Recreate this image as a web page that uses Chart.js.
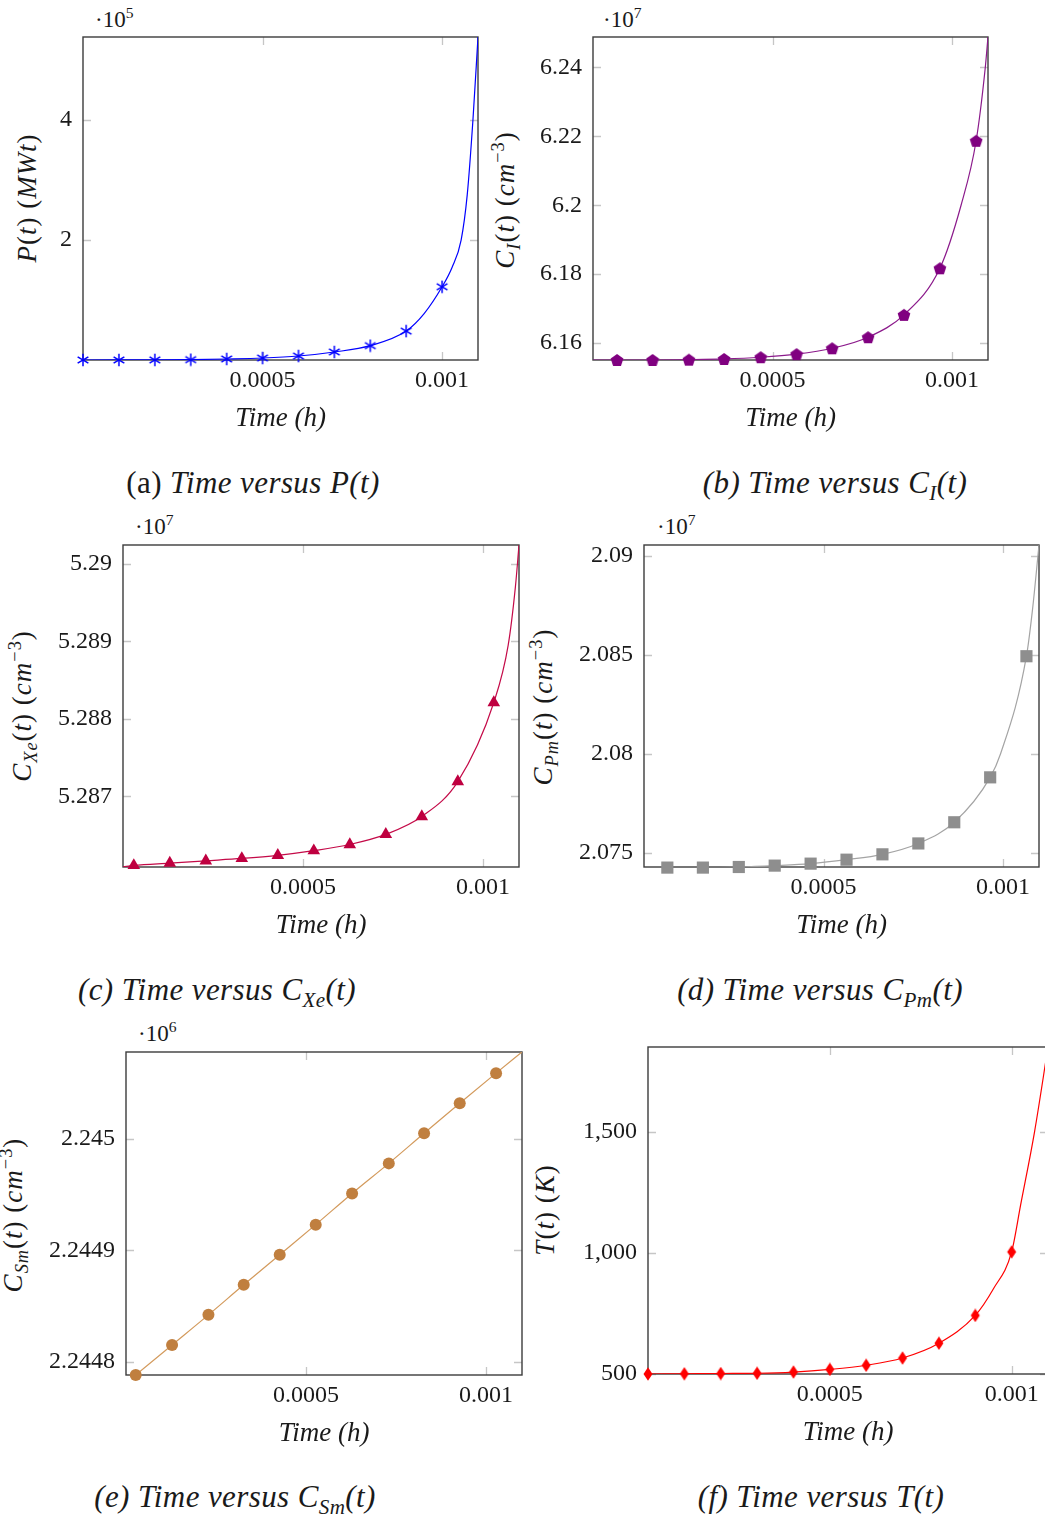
<!DOCTYPE html>
<html>
<head>
<meta charset="utf-8">
<script src="https://cdn.jsdelivr.net/npm/chart.js@4.4.1/dist/chart.umd.min.js"></script>
<style>
    html, body { margin: 0; padding: 0; background: #fff; }
    body { width: 1045px; height: 1517px; position: relative; overflow: hidden; font-family: 'Liberation Serif', serif; color: #1a1a1a; }
    canvas { position: absolute; }
    .ytitle { position: absolute; transform: translate(-50%, -50%) rotate(-90deg); white-space: nowrap; font-size: 27px; letter-spacing: 1px; }
    .mult { position: absolute; font-size: 23px; transform: translateY(-50%); white-space: nowrap; }
    .caption { position: absolute; transform: translate(-50%, -50%); white-space: nowrap; font-size: 31px; letter-spacing: 0.4px; font-style: italic; }
    .caption .up { font-style: normal; }
    sub, sup { font-size: 68%; line-height: 0; }
</style>
</head>
<body>

<div class="mult" style="left:95px; top:20px">·10<sup>5</sup></div>
<div class="mult" style="left:603px; top:20px">·10<sup>7</sup></div>
<div class="mult" style="left:135px; top:527px">·10<sup>7</sup></div>
<div class="mult" style="left:657px; top:527px">·10<sup>7</sup></div>
<div class="mult" style="left:138px; top:1034px">·10<sup>6</sup></div>

<div class="ytitle" style="left:27px; top:198px"><i>P</i>(<i>t</i>) (<i>MWt</i>)</div>
<div class="ytitle" style="left:505px; top:200px"><i>C<sub>I</sub></i>(<i>t</i>) (<i>cm</i><sup>−3</sup>)</div>
<div class="ytitle" style="left:22px; top:706px"><i>C<sub>Xe</sub></i>(<i>t</i>) (<i>cm</i><sup>−3</sup>)</div>
<div class="ytitle" style="left:543px; top:707px"><i>C<sub>Pm</sub></i>(<i>t</i>) (<i>cm</i><sup>−3</sup>)</div>
<div class="ytitle" style="left:13px; top:1215px"><i>C<sub>Sm</sub></i>(<i>t</i>) (<i>cm</i><sup>−3</sup>)</div>
<div class="ytitle" style="left:545px; top:1210px"><i>T</i>(<i>t</i>) (<i>K</i>)</div>

<div class="caption" style="left:253px; top:483px"><span class="up">(a)</span> Time versus P(t)</div>
<div class="caption" style="left:835px; top:483px">(b) Time versus C<sub>I</sub>(t)</div>
<div class="caption" style="left:217px; top:990px">(c) Time versus C<sub>Xe</sub>(t)</div>
<div class="caption" style="left:820px; top:990px">(d) Time versus C<sub>Pm</sub>(t)</div>
<div class="caption" style="left:235px; top:1497px">(e) Time versus C<sub>Sm</sub>(t)</div>
<div class="caption" style="left:821px; top:1497px">(f) Time versus T(t)</div>

<script>
// shared time axis
const xTicks = [0.0005, 0.001];
const xTickLabels = ['0.0005', '0.001'];

// (a) P(t), in 1e5 MWt
const pTimes = [0, 0.0001, 0.0002, 0.0003, 0.0004, 0.0005, 0.0006, 0.0007, 0.0008, 0.0009, 0.001];
const pValues = [0.01, 0.011, 0.012, 0.016, 0.027, 0.043, 0.076, 0.143, 0.248, 0.49, 1.225];
const pEdgeTimes = [0.00095, 0.001028, 0.001053, 0.00107, 0.001086, 0.0011];
const pEdgeValues = [0.78, 1.55, 2.0, 2.75, 4.0, 5.37];
const pYTicks = [2, 4];
const pYTickLabels = ['2', '4'];

// (b) C_I(t), in 1e7 cm^-3
const ciTimes = [0.000067, 0.000166, 0.000267, 0.000365, 0.000467, 0.000567, 0.000666, 0.000766, 0.000866, 0.000966, 0.001067];
const ciValues = [6.1551, 6.1551, 6.1552, 6.1554, 6.1559, 6.1568, 6.1585, 6.1617, 6.1682, 6.1817, 6.2187];
const ciEdgeTimes = [0, 0.001025, 0.001092, 0.0011];
const ciEdgeValues = [6.1551, 6.2, 6.2395, 6.2488];
const ciYTicks = [6.16, 6.18, 6.2, 6.22, 6.24];
const ciYTickLabels = ['6.16', '6.18', '6.2', '6.22', '6.24'];

// (c) C_Xe(t), in 1e7 cm^-3
const xeTimes = [0.00003, 0.00013, 0.00023, 0.00033, 0.00043, 0.00053, 0.00063, 0.00073, 0.00083, 0.00093, 0.00103];
const xeValues = [5.28611, 5.28614, 5.28617, 5.2862, 5.28624, 5.2863, 5.28638, 5.28651, 5.28674, 5.28719, 5.28821];
const xeEdgeTimes = [0, 0.00107, 0.00109, 0.0011];
const xeEdgeValues = [5.28609, 5.28895, 5.2897, 5.29024];
const xeYTicks = [5.287, 5.288, 5.289, 5.29];
const xeYTickLabels = ['5.287', '5.288', '5.289', '5.29'];

// (d) C_Pm(t), in 1e7 cm^-3
const pmTimes = [0.000065, 0.000164, 0.000264, 0.000364, 0.000464, 0.000564, 0.000664, 0.000764, 0.000864, 0.000964, 0.001065];
const pmValues = [2.07425, 2.07425, 2.07428, 2.07435, 2.07445, 2.07465, 2.07492, 2.07547, 2.07654, 2.07881, 2.08493];
const pmEdgeTimes = [0, 0.000993, 0.001082, 0.0011];
const pmEdgeValues = [2.07425, 2.08, 2.0873, 2.09055];
const pmYTicks = [2.075, 2.08, 2.085, 2.09];
const pmYTickLabels = ['2.075', '2.08', '2.085', '2.09'];

// (e) C_Sm(t), in 1e6 cm^-3
const smTimes = [0.000027, 0.000128, 0.000229, 0.000327, 0.000427, 0.000527, 0.000628, 0.00073, 0.000828, 0.000927, 0.001028];
const smValues = [2.244788, 2.244815, 2.244842, 2.244869, 2.244896, 2.244923, 2.244951, 2.244978, 2.245005, 2.245032, 2.245059];
const smEdgeTimes = [0.0011];
const smEdgeValues = [2.245078];
const smYTicks = [2.2448, 2.2449, 2.245];
const smYTickLabels = ['2.2448', '2.2449', '2.245'];

// (f) T(t), in K
const tTimes = [0, 0.0001, 0.0002, 0.0003, 0.0004, 0.0005, 0.0006, 0.0007, 0.0008, 0.0009, 0.001];
const tValues = [500, 501, 502, 503, 508, 519, 536, 566, 627, 742, 1004];
const tEdgeTimes = [0.00095, 0.001025, 0.001063, 0.0011];
const tEdgeValues = [852, 1200, 1500, 1850];
const tYTicks = [500, 1000, 1500];
const tYTickLabels = ['500', '1,000', '1,500'];

function makeMarker(kind, color, size) {
    const c = document.createElement('canvas');
    c.width = size;
    c.height = size;
    const g = c.getContext('2d');
    const m = size / 2;
    g.fillStyle = color;
    g.strokeStyle = color;
    if (kind === 'asterisk') {
        g.lineWidth = 1.5;
        const r = m - 0.8;
        for (let k = 0; k < 3; k++) {
            const a = Math.PI / 2 + k * Math.PI / 3;
            g.beginPath();
            g.moveTo(m + r * Math.cos(a), m - r * Math.sin(a));
            g.lineTo(m - r * Math.cos(a), m + r * Math.sin(a));
            g.stroke();
        }
    } else if (kind === 'pentagon') {
        g.beginPath();
        for (let k = 0; k < 5; k++) {
            const a = Math.PI / 2 + k * 2 * Math.PI / 5;
            g.lineTo(m + (m - 0.3) * Math.cos(a), m - (m - 0.3) * Math.sin(a) + 0.6);
        }
        g.closePath();
        g.fill();
    } else if (kind === 'diamond') {
        g.beginPath();
        g.moveTo(m, 0.3);
        g.lineTo(m + size * 0.32, m);
        g.lineTo(m, size - 0.3);
        g.lineTo(m - size * 0.32, m);
        g.closePath();
        g.fill();
    }
    return c;
}

function pairs(times, values) {
    return times.map((t, i) => ({ x: t, y: values[i] }));
}

const framePlugin = {
    id: 'frame',
    beforeDatasetsDraw(chart) {
        const { ctx, chartArea: a, scales: { x, y } } = chart;
        const len = 8;
        ctx.save();
        ctx.strokeStyle = '#c6c6c6';
        ctx.lineWidth = 1.3;
        ctx.beginPath();
        x.ticks.forEach(t => {
            const px = Math.round(x.getPixelForValue(t.value)) + 0.5;
            ctx.moveTo(px, a.bottom); ctx.lineTo(px, a.bottom - len);
            ctx.moveTo(px, a.top); ctx.lineTo(px, a.top + len);
        });
        y.ticks.forEach(t => {
            const py = Math.round(y.getPixelForValue(t.value)) + 0.5;
            ctx.moveTo(a.left, py); ctx.lineTo(a.left + len, py);
            ctx.moveTo(a.right, py); ctx.lineTo(a.right - len, py);
        });
        ctx.stroke();
        ctx.strokeStyle = '#3c3c3c';
        ctx.lineWidth = 1.4;
        ctx.strokeRect(a.left, a.top, a.right - a.left, a.bottom - a.top);
        ctx.restore();
    }
};

const panels = [
    { frame: [83, 37, 478, 360], yMin: 0.01, yMax: 5.37, yTicks: pYTicks, yTickLabels: pYTickLabels,
      marks: pairs(pTimes, pValues), edge: pairs(pEdgeTimes, pEdgeValues),
      lineColor: '#0000ff', markColor: '#0000ff', marker: makeMarker('asterisk', '#0000ff', 14), radius: 6 },
    { frame: [593, 37, 988, 360], yMin: 6.1551, yMax: 6.2488, yTicks: ciYTicks, yTickLabels: ciYTickLabels,
      marks: pairs(ciTimes, ciValues), edge: pairs(ciEdgeTimes, ciEdgeValues),
      lineColor: '#8b1a8b', markColor: '#800080', marker: makeMarker('pentagon', '#800080', 14), radius: 7 },
    { frame: [123, 545, 519, 867], yMin: 5.28609, yMax: 5.29024, yTicks: xeYTicks, yTickLabels: xeYTickLabels,
      marks: pairs(xeTimes, xeValues), edge: pairs(xeEdgeTimes, xeEdgeValues),
      lineColor: '#c40a48', markColor: '#bf0040', marker: 'triangle', radius: 7.3 },
    { frame: [644, 545, 1039, 867], yMin: 2.07428, yMax: 2.09055, yTicks: pmYTicks, yTickLabels: pmYTickLabels,
      marks: pairs(pmTimes, pmValues), edge: pairs(pmEdgeTimes, pmEdgeValues),
      lineColor: '#a4a4a4', markColor: '#8e8e8e', marker: 'rect', radius: 8.6 },
    { frame: [126, 1052, 522, 1375], yMin: 2.244788, yMax: 2.245078, yTicks: smYTicks, yTickLabels: smYTickLabels,
      marks: pairs(smTimes, smValues), edge: pairs(smEdgeTimes, smEdgeValues),
      lineColor: '#d39a5c', markColor: '#c07f3f', marker: 'circle', radius: 6 },
    { frame: [648, 1047, 1048, 1374], yMin: 500, yMax: 1850, yTicks: tYTicks, yTickLabels: tYTickLabels,
      marks: pairs(tTimes, tValues), edge: pairs(tEdgeTimes, tEdgeValues),
      lineColor: '#ff0000', markColor: '#ff0000', marker: makeMarker('diamond', '#ff0000', 14), radius: 7 }
];

const tickFont = { family: "'Liberation Serif', serif", size: 24 };
const titleFont = { family: "'Liberation Serif', serif", size: 27, style: 'italic' };
const padTop = 12, padRight = 14, yAxisW = 80, xAxisH = 80;

panels.forEach(p => {
    const [L, T, R, B] = p.frame;
    const canvas = document.createElement('canvas');
    canvas.width = R - L + yAxisW + padRight;
    canvas.height = B - T + padTop + xAxisH;
    canvas.style.left = (L - yAxisW) + 'px';
    canvas.style.top = (T - padTop) + 'px';
    document.body.appendChild(canvas);

    const curve = p.marks.concat(p.edge).sort((a, b) => a.x - b.x);

    new Chart(canvas, {
        type: 'scatter',
        data: {
            datasets: [
                {
                    data: p.marks,
                    pointStyle: p.marker,
                    pointRadius: p.radius,
                    pointBackgroundColor: p.markColor,
                    pointBorderColor: p.markColor,
                    pointBorderWidth: 0,
                    clip: false
                },
                {
                    data: curve,
                    showLine: true,
                    borderColor: p.lineColor,
                    borderWidth: 1.2,
                    pointRadius: 0,
                    cubicInterpolationMode: 'monotone'
                }
            ]
        },
        options: {
            responsive: false,
            animation: false,
            events: [],
            layout: { padding: { top: padTop, right: padRight, left: 0, bottom: 0 } },
            plugins: { legend: { display: false }, tooltip: { enabled: false } },
            scales: {
                x: {
                    type: 'linear',
                    min: 0,
                    max: 0.0011,
                    grid: { display: false, drawTicks: false },
                    border: { display: false },
                    afterBuildTicks: s => { s.ticks = xTicks.map(v => ({ value: v })); },
                    afterFit: s => { s.height = xAxisH; s.paddingLeft = 0; s.paddingRight = 0; },
                    ticks: { autoSkip: false, maxRotation: 0, padding: 6, color: '#1a1a1a', font: tickFont,
                             callback: (v, i) => xTickLabels[i] },
                    title: { display: true, text: 'Time (h)', color: '#1a1a1a', font: titleFont,
                             padding: { top: 0, bottom: 5 } }
                },
                y: {
                    type: 'linear',
                    min: p.yMin,
                    max: p.yMax,
                    grid: { display: false, drawTicks: false },
                    border: { display: false },
                    afterBuildTicks: s => { s.ticks = p.yTicks.map(v => ({ value: v })); },
                    afterFit: s => { s.width = yAxisW; s.paddingTop = 0; s.paddingBottom = 0; },
                    ticks: { autoSkip: false, padding: 11, color: '#1a1a1a', font: tickFont,
                             callback: (v, i) => p.yTickLabels[i] }
                }
            }
        },
        plugins: [framePlugin]
    });
});
</script>
</body>
</html>
